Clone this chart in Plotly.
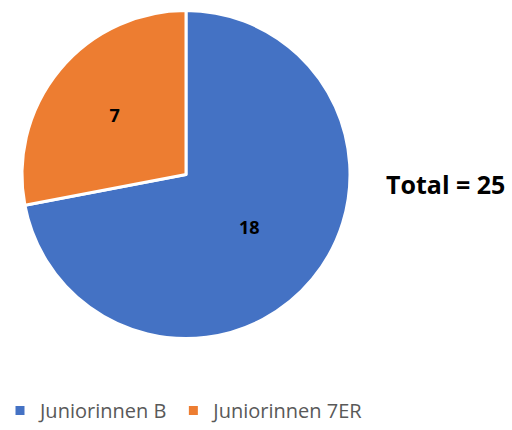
import plotly.graph_objects as go

labels = ["Juniorinnen B", "Juniorinnen 7ER"]
values = [18, 7]
colors = ["#4472C4", "#ED7D31"]
total_text = "Total = 25"

W, H = 512, 430
fig = go.Figure(go.Pie(
    labels=labels, values=values, sort=False, direction="clockwise", rotation=0,
    marker=dict(colors=colors, line=dict(color="white", width=3)),
    textinfo="value", textposition="inside", insidetextorientation="horizontal",
    textfont=dict(family="Open Sans", size=18, color="black", weight="bold"),
    domain=dict(x=[22/W, 350/W], y=[1-339/H, 1-10/H]),
    hoverinfo="label+value",
))
fig.add_annotation(text="<b>" + total_text + "</b>", x=445/W, y=1-184/H, xref="paper", yref="paper",
                   xanchor="center", yanchor="middle",
                   showarrow=False, font=dict(family="Open Sans", size=25, color="black"))
fig.update_layout(
    width=W, height=H, margin=dict(l=0, r=0, t=0, b=0, autoexpand=False),
    paper_bgcolor="white", plot_bgcolor="white",
    legend=dict(orientation="h", x=0, y=0, xanchor="left", yanchor="bottom",
                font=dict(family="Open Sans", size=20, color="#595959")),
)
fig.write_html("out.html")
